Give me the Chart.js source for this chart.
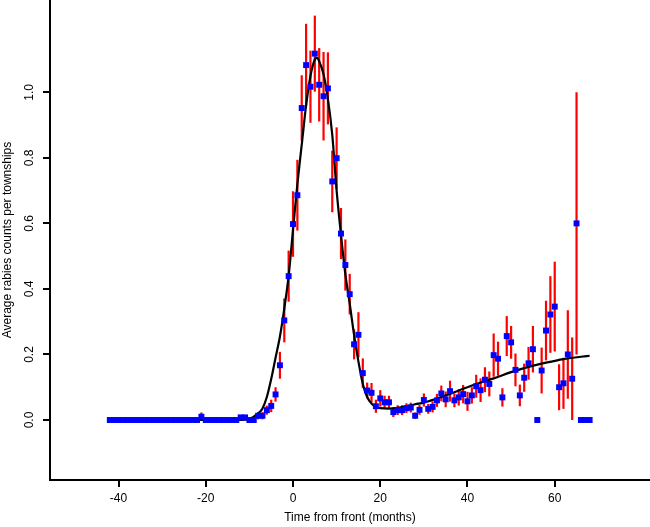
<!DOCTYPE html>
<html>
<head>
<meta charset="utf-8">
<script src="https://cdn.jsdelivr.net/npm/chart.js@4/dist/chart.umd.min.js"></script>
<style>
  html, body { margin: 0; padding: 0; background: #fff; }
  #wrap { width: 650px; height: 527px; }
</style>
</head>
<body>
<div id="wrap"><canvas id="c" width="650" height="527"></canvas></div>
<script>
// ---- data ----
const months = [-42,-41,-40,-39,-38,-37,-36,-35,-34,-33,-32,-31,-30,-29,-28,-27,-26,-25,-24,-23,-22,-21,-20,-19,-18,-17,-16,-15,-14,-13,-12,-11,-10,-9,-8,-7,-6,-5,-4,-3,-2,-1,0,1,2,3,4,5,6,7,8,9,10,11,12,13,14,15,16,17,18,19,20,21,22,23,24,25,26,27,28,29,30,31,32,33,34,35,36,37,38,39,40,41,42,43,44,45,46,47,48,49,50,51,52,53,54,55,56,57,58,59,60,61,62,63,64,65,66,67,68];
const rate = [0,0,0,0,0,0,0,0,0,0,0,0,0,0,0,0,0,0,0,0,0,0.01,0,0,0,0,0,0,0,0,0.008,0.008,0,0,0.013,0.013,0.03,0.043,0.078,0.167,0.304,0.439,0.598,0.686,0.952,1.083,1.017,1.118,1.023,0.988,1.012,0.728,0.799,0.569,0.473,0.384,0.231,0.26,0.143,0.09,0.083,0.042,0.066,0.054,0.054,0.024,0.03,0.03,0.036,0.038,0.013,0.031,0.061,0.034,0.04,0.06,0.081,0.063,0.088,0.06,0.069,0.079,0.057,0.075,0.103,0.091,0.123,0.11,0.198,0.187,0.069,0.256,0.237,0.153,0.075,0.129,0.173,0.216,0,0.151,0.273,0.322,0.346,0.1,0.112,0.2,0.126,0.6,0,0,0];
const se = [0,0,0,0,0,0,0,0,0,0,0,0,0,0,0,0,0,0,0,0,0,0.013,0,0,0,0,0,0,0,0,0.005,0.005,0,0,0.011,0.011,0.014,0.019,0.022,0.041,0.067,0.078,0.1,0.108,0.1,0.126,0.11,0.116,0.112,0.135,0.11,0.094,0.094,0.078,0.078,0.062,0.046,0.069,0.045,0.024,0.03,0.02,0.025,0.02,0.02,0.015,0.015,0.015,0.015,0.015,0.01,0.015,0.02,0.015,0.017,0.02,0.024,0.024,0.032,0.021,0.025,0.028,0.029,0.025,0.035,0.036,0.038,0.038,0.066,0.052,0.028,0.061,0.05,0.05,0.033,0.043,0.05,0.071,0,0.07,0.091,0.117,0.137,0.07,0.078,0.135,0.126,0.4,0,0,0];
const curveX = [-42,-12,-10,-8,-7,-6,-5,-4,-3,-2,-1,0,1,2,3,4,5,5.5,6,7,8,9,10,11,12,13,14,15,16,17,18,19,20,22,24,26,28,30,34,38,42,46,50,54,58,62,66,68];
const curveY = [0,0,0.003,0.02,0.035,0.07,0.125,0.19,0.255,0.34,0.44,0.58,0.72,0.84,0.96,1.05,1.1,1.105,1.095,1.055,0.98,0.87,0.70,0.565,0.445,0.355,0.26,0.178,0.11,0.07,0.05,0.04,0.036,0.035,0.037,0.042,0.048,0.053,0.07,0.09,0.11,0.127,0.146,0.162,0.175,0.186,0.193,0.196];
const xTickValues = [-40,-20,0,20,40,60];
const yTickValues = [0,0.2,0.4,0.6,0.8,1.0];
const yTickLabels = ['0.0','0.2','0.4','0.6','0.8','1.0'];
const xTitle = 'Time from front (months)';
const yTitle = 'Average rabies counts per townships';

const FONT = '"Liberation Sans", Arial, Helvetica, sans-serif';

const errorBars = {
  id: 'errorBars',
  beforeDatasetsDraw(chart) {
    const {ctx, scales: {x, y}, chartArea} = chart;
    ctx.save();
    ctx.beginPath();
    ctx.rect(chartArea.left, chartArea.top, chartArea.right - chartArea.left, chartArea.bottom - chartArea.top);
    ctx.clip();
    ctx.strokeStyle = '#ff0000';
    ctx.lineWidth = 2.2;
    ctx.lineCap = 'butt';
    months.forEach((m, i) => {
      if (!se[i]) return;
      const px = x.getPixelForValue(m);
      ctx.beginPath();
      ctx.moveTo(px, y.getPixelForValue(rate[i] - se[i]));
      ctx.lineTo(px, y.getPixelForValue(rate[i] + se[i]));
      ctx.stroke();
    });
    ctx.restore();
  }
};

new Chart(document.getElementById('c'), {
  data: {
    datasets: [
      {
        type: 'scatter',
        label: 'observed',
        data: months.map((m, i) => ({x: m, y: rate[i]})),
        pointStyle: 'rect',
        pointRadius: 4.2,
        pointBackgroundColor: '#0000ff',
        pointBorderWidth: 0,
        order: 0
      },
      {
        type: 'line',
        label: 'fit',
        data: curveX.map((v, i) => ({x: v, y: curveY[i]})),
        borderColor: '#000000',
        borderWidth: 2.2,
        pointRadius: 0,
        fill: false,
        cubicInterpolationMode: 'monotone',
        order: 1
      }
    ]
  },
  options: {
    responsive: false,
    animation: false,
    events: [],
    layout: { padding: 0, autoPadding: false },
    plugins: { legend: { display: false }, tooltip: { enabled: false }, title: { display: false } },
    scales: {
      x: {
        type: 'linear',
        min: -55.71,
        max: 81.84,
        afterBuildTicks(s) { s.ticks = xTickValues.map(v => ({value: v})); },
        afterFit(s) { s.height = 47; s.paddingLeft = 0; s.paddingRight = 0; },
        ticks: {
          color: '#000',
          padding: 4,
          maxRotation: 0,
          font: { family: FONT, size: 12 },
          callback: v => String(v)
        },
        grid: { drawOnChartArea: false, drawTicks: true, tickLength: 7, color: '#000', lineWidth: 2 },
        border: { display: true, color: '#000', width: 2 },
        title: { display: true, text: xTitle, color: '#000', font: { family: FONT, size: 12 }, padding: { top: 0, bottom: 2 } }
      },
      y: {
        type: 'linear',
        min: -0.1831,
        max: 1.2817,
        afterBuildTicks(s) { s.ticks = yTickValues.map(v => ({value: v})); },
        afterFit(s) { s.width = 50; s.paddingTop = 0; s.paddingBottom = 0; },
        ticks: {
          color: '#000',
          padding: 5,
          minRotation: 90,
          maxRotation: 90,
          crossAlign: 'center',
          font: { family: FONT, size: 12 },
          callback: (v) => { const k = yTickValues.findIndex(t => Math.abs(t - v) < 1e-9); return k >= 0 ? yTickLabels[k] : ''; }
        },
        grid: { drawOnChartArea: false, drawTicks: true, tickLength: 7, color: '#000', lineWidth: 2 },
        border: { display: true, color: '#000', width: 2 },
        title: { display: true, text: yTitle, color: '#000', font: { family: FONT, size: 12 }, padding: { top: 0, bottom: 0 } }
      }
    }
  },
  plugins: [errorBars]
});
</script>
</body>
</html>
